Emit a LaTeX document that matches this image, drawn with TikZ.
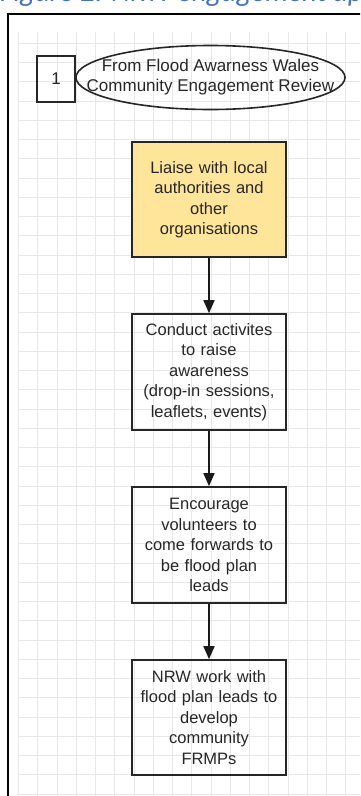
\documentclass[tikz,border=0pt]{standalone}
\usepackage{fontspec}
\setmainfont{Liberation Sans}
\newfontfamily\capfont{Carlito}
\usetikzlibrary{shapes.geometric,arrows.meta}
\definecolor{liaisefill}{RGB}{255,229,153}
\definecolor{capblue}{RGB}{68,114,196}

\begin{document}
\begin{tikzpicture}[x=1pt,y=-1pt,
	stepbox/.style={draw=black!85,line width=1.6pt,minimum width=154pt,text width=150pt,inner sep=0pt,
		align=center,text=black!85,font=\fontsize{16.5}{20.5}\selectfont},
	flow/.style={draw=black!90,line width=1.6pt,-{Triangle[length=13pt,width=11pt]}},
	gridline/.style={draw=black!9,line width=0.8pt}]
		\useasboundingbox (0,0) rectangle (360,796);
		\clip (0,0) rectangle (360,796);
		\foreach \gx in {0,...,17}{
		\draw[gridline] (18.5+19.25*\gx,32) -- (18.5+19.25*\gx,796);
		}
		\foreach \gy in {0,...,39}{
		\draw[gridline] (18.5,43.3+19.25*\gy) -- (360,43.3+19.25*\gy);
		}
		\draw[line width=2pt,line join=miter] (8,800) -- (8,14) -- (365,14);
		\node[anchor=base west,inner sep=0pt,text=capblue,font=\capfont\itshape\fontsize{29}{34}\selectfont] (cap) at (0,1.5) {Figure 2: NRW engagement approach};
		\node[draw=black!85,line width=1.6pt,minimum width=38pt,minimum height=46pt,inner sep=0pt,text=black!85,font=\fontsize{17}{20}\selectfont] (n1) at (56,79) {1};
		\node[align=center,inner sep=0pt,text=black!85,font=\fontsize{17}{20}\selectfont] (src) at (210.5,77.5) {From Flood Awarness Wales\\Community Engagement Review};
		\draw[draw=black!85,line width=1.6pt] (src.center) ellipse [x radius=134.5pt, y radius=32pt];
		\node[stepbox,fill=liaisefill,minimum height=115pt] (s1) at (209,199.5) {Liaise with local\\authorities and\\other\\organisations};
		\node[stepbox,minimum height=116pt] (s2) at (209,372) {Conduct activites\\to raise\\awareness\\(drop-in sessions,\\leaflets, events)};
		\node[stepbox,minimum height=116pt] (s3) at (209,545) {Encourage\\volunteers to\\come forwards to\\be flood plan\\leads};
		\node[stepbox,minimum height=115pt] (s4) at (209,717.5) {NRW work with\\flood plan leads to\\develop\\community\\FRMPs};
		\draw[flow] (s1) -- (s2);
		\draw[flow] (s2) -- (s3);
		\draw[flow] (s3) -- (s4);
		\end{tikzpicture}
\end{document}
